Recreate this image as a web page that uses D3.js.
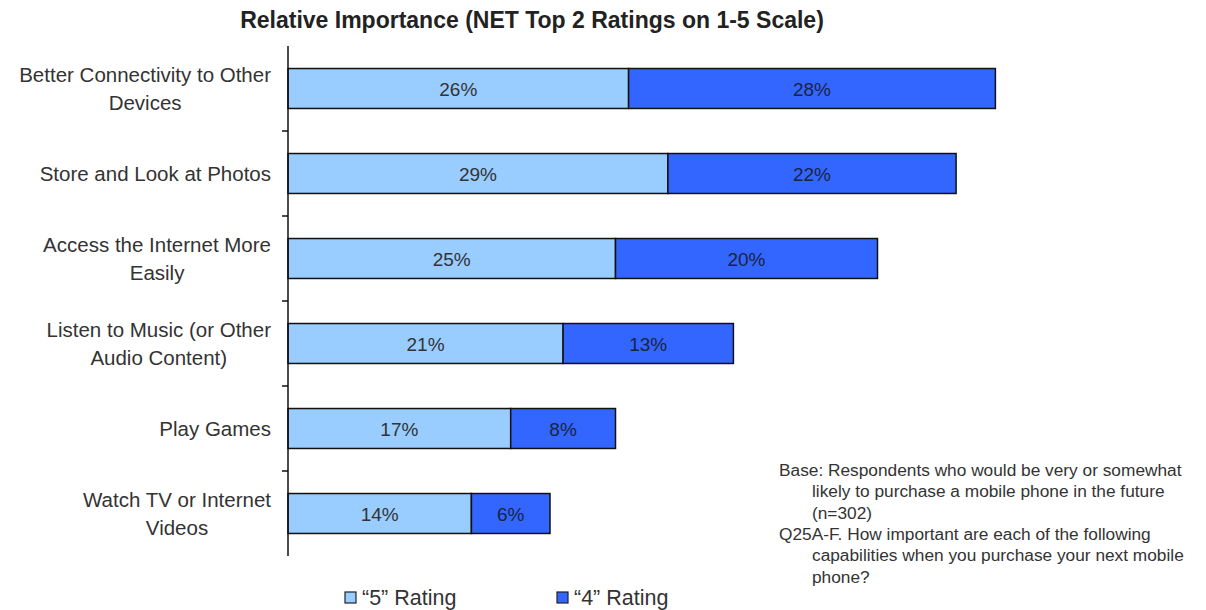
<!DOCTYPE html>
<html>
<head>
<meta charset="utf-8">
<script src="https://cdn.jsdelivr.net/npm/d3@7"></script>
<style>
  body { margin: 0; background: #fff; }
  text { font-family: "Liberation Sans", Arial, sans-serif; }
</style>
</head>
<body>
<div id="chart"></div>
<script>
var categories = [
    ["Better Connectivity to Other", "Devices"],
    ["Store and Look at Photos"],
    ["Access the Internet More", "Easily"],
    ["Listen to Music (or Other", "Audio Content)"],
    ["Play Games"],
    ["Watch TV or Internet", "Videos"]
];
var rating5 = [26, 29, 25, 21, 17, 14];
var rating4 = [28, 22, 20, 13, 8, 6];
var seriesNames = ["\u201C5\u201D Rating", "\u201C4\u201D Rating"];
var noteLines = [
    ["Base: Respondents who would be very or somewhat", 0],
    ["likely to purchase a mobile phone in the future", 1],
    ["(n=302)", 1],
    ["Q25A-F. How important are each of the following", 0],
    ["capabilities when you purchase your next mobile", 1],
    ["phone?", 1]
];

var width = 1206, height = 610;
var margin = { top: 46, left: 288 };
var plotH = 510;

var svg = d3.select("#chart").append("svg")
    .attr("width", width)
    .attr("height", height);

var g = svg.append("g")
    .attr("transform", "translate(" + margin.left + "," + margin.top + ")");

var x = d3.scaleLinear().domain([0, 100]).range([0, 1310]);
var y = d3.scaleBand().domain(d3.range(categories.length)).range([0, plotH]).paddingInner(0.53).paddingOuter(0.265);

var rows = categories.map(function (c, i) {
    return { i: i, v5: rating5[i], v4: rating4[i] };
});

// title
svg.append("text")
    .attr("x", 532)
    .attr("y", 28)
    .attr("text-anchor", "middle")
    .style("font-size", "23px")
    .style("font-weight", "bold")
    .style("fill", "#222")
    .text("Relative Importance (NET Top 2 Ratings on 1-5 Scale)");

// bars
var colors = ["#99CCFF", "#3366FF"];
rows.forEach(function (d) {
    var segs = [
        { x0: 0, x1: d.v5, c: colors[0], t: d.v5 + "%", tc: "#333" },
        { x0: d.v5, x1: d.v5 + d.v4, c: colors[1], t: d.v4 + "%", tc: "#1a2440" }
    ];
    segs.forEach(function (s) {
        g.append("rect")
            .attr("x", x(s.x0))
            .attr("y", y(d.i))
            .attr("width", x(s.x1) - x(s.x0))
            .attr("height", y.bandwidth())
            .style("fill", s.c)
            .style("stroke", "#111")
            .style("stroke-width", 1.5);
        g.append("text")
            .attr("x", (x(s.x0) + x(s.x1)) / 2)
            .attr("y", y(d.i) + y.bandwidth() / 2 + 7)
            .attr("text-anchor", "middle")
            .style("font-size", "19px")
            .style("fill", s.tc)
            .text(s.t);
    });
});

// axis line + ticks between categories
g.append("line")
    .attr("x1", 0).attr("x2", 0)
    .attr("y1", 0).attr("y2", plotH)
    .style("stroke", "#111").style("stroke-width", 1.5);
d3.range(1, categories.length).forEach(function (i) {
    var ty = y(i) - y.step() * y.paddingInner() / 2;
    g.append("line")
        .attr("x1", -6).attr("x2", 0)
        .attr("y1", ty).attr("y2", ty)
        .style("stroke", "#111").style("stroke-width", 1.5);
});

// category labels
categories.forEach(function (lines, i) {
    var cy = margin.top + y(i) + y.bandwidth() / 2;
    var grp = svg.append("g");
    var texts = lines.map(function (l, k) {
        return grp.append("text")
            .attr("y", cy + 7 + (k - (lines.length - 1) / 2) * 28)
            .attr("text-anchor", "middle")
            .style("font-size", "20.5px")
            .style("fill", "#333")
            .text(l);
    });
    var maxW = d3.max(texts, function (t) { return t.node().getComputedTextLength(); });
    texts.forEach(function (t) { t.attr("x", 271 - maxW / 2); });
});

// note
noteLines.forEach(function (n, k) {
    svg.append("text")
        .attr("x", n[1] ? 812 : 779)
        .attr("y", 476 + k * 21.3)
        .style("font-size", "17.3px")
        .style("fill", "#333")
        .text(n[0]);
});

// legend
var legX = [345, 557];
seriesNames.forEach(function (name, k) {
    svg.append("rect")
        .attr("x", legX[k]).attr("y", 592)
        .attr("width", 11).attr("height", 11)
        .style("fill", colors[k])
        .style("stroke", "#222").style("stroke-width", 1.2);
    svg.append("text")
        .attr("x", legX[k] + 17)
        .attr("y", 605)
        .style("font-size", "21.5px")
        .style("fill", "#333")
        .text(name);
});
</script>
</body>
</html>
